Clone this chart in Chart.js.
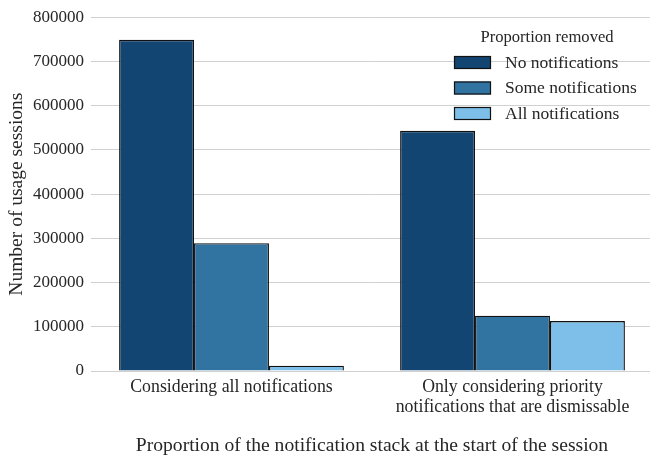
<!DOCTYPE html>
<html>
<head>
<meta charset="utf-8">
<script src="https://cdn.jsdelivr.net/npm/chart.js@4.4.0/dist/chart.umd.min.js"></script>
<style>
  html, body { margin: 0; padding: 0; background: #fff; }
  #wrap { width: 650px; height: 459px; }
</style>
</head>
<body>
<div id="wrap"><canvas id="chart" width="650" height="459"></canvas></div>
<script>
// Data
const categories = [
    ['Considering all notifications'],
    ['Only considering priority', 'notifications that are dismissable'],
];
const seriesNames = ['No notifications', 'Some notifications', 'All notifications'];
const noNotifications = [749000, 543000];
const someNotifications = [289000, 125000];
const allNotifications = [12000, 113000];
const yMax = 800000;
const yStep = 100000;

const colors = ['#124572', '#3274a1', '#7ebfea'];
const textColor = '#262626';
const serif = "'Liberation Serif', 'Times New Roman', serif";

// legend drawn inside the plot, top right
const legendPlugin = {
    id: 'innerLegend',
    afterDatasetsDraw(chart) {
        const ctx = chart.ctx;
        ctx.save();
        ctx.fillStyle = textColor;
        ctx.font = '16.6px ' + serif;
        ctx.textBaseline = 'middle';
        ctx.textAlign = 'center';
        ctx.fillText('Proportion removed', 547, 38);
        ctx.textAlign = 'left';
        chart.data.datasets.forEach((ds, i) => {
            const y = 56 + i * 25.5;
            ctx.fillStyle = ds.backgroundColor;
            ctx.fillRect(454, y, 37, 13);
            ctx.strokeStyle = '#111';
            ctx.lineWidth = 1.2;
            ctx.strokeRect(454.5, y + 0.5, 36, 12);
            ctx.fillStyle = textColor;
            ctx.font = '17.5px ' + serif;
            ctx.fillText(ds.label, 505, y + 7);
        });
        ctx.restore();
    },
};

// the plot in the reference runs a few pixels past the right edge
const stretchX = {
    id: 'stretchX',
    afterLayout(chart) {
        const x = chart.scales.x;
        x.right += 3;
        x.width += 3;
        x.configure();
    },
};

const ctx = document.getElementById('chart').getContext('2d');
new Chart(ctx, {
    type: 'bar',
    data: {
        labels: categories,
        datasets: [
            { label: seriesNames[0], data: noNotifications, backgroundColor: colors[0] },
            { label: seriesNames[1], data: someNotifications, backgroundColor: colors[1] },
            { label: seriesNames[2], data: allNotifications, backgroundColor: colors[2] },
        ].map((d) => ({ ...d, borderColor: '#111', borderWidth: 1.4, categoryPercentage: 0.8, barPercentage: 1 })),
    },
    options: {
        responsive: false,
        animation: false,
        layout: { padding: { top: 15, right: 0, bottom: 0, left: 0 } },
        plugins: {
            legend: { display: false },
            tooltip: { enabled: false },
        },
        scales: {
            x: {
                grid: { display: false },
                border: { display: false },
                ticks: {
                    color: textColor,
                    font: { family: serif, size: 17.8, lineHeight: 1.12 },
                    padding: -2,
                    maxRotation: 0,
                    autoSkip: false,
                },
                title: {
                    display: true,
                    text: 'Proportion of the notification stack at the start of the session',
                    color: textColor,
                    font: { family: serif, size: 19.6 },
                    padding: { top: 0, bottom: 1 },
                },
                afterFit(scale) { scale.height = 88; },
            },
            y: {
                min: 0,
                max: yMax,
                grid: { color: '#d0d0d0', lineWidth: 1, drawTicks: false },
                border: { display: false },
                ticks: {
                    stepSize: yStep,
                    color: textColor,
                    font: { family: serif, size: 17 },
                    padding: 7,
                    callback: (v) => String(v),
                },
                title: {
                    display: true,
                    text: 'Number of usage sessions',
                    color: textColor,
                    font: { family: serif, size: 19.5 },
                    padding: { top: 5, bottom: 0 },
                },
                afterFit(scale) { scale.width = 91; },
            },
        },
    },
    plugins: [legendPlugin, stretchX],
});
</script>
</body>
</html>
